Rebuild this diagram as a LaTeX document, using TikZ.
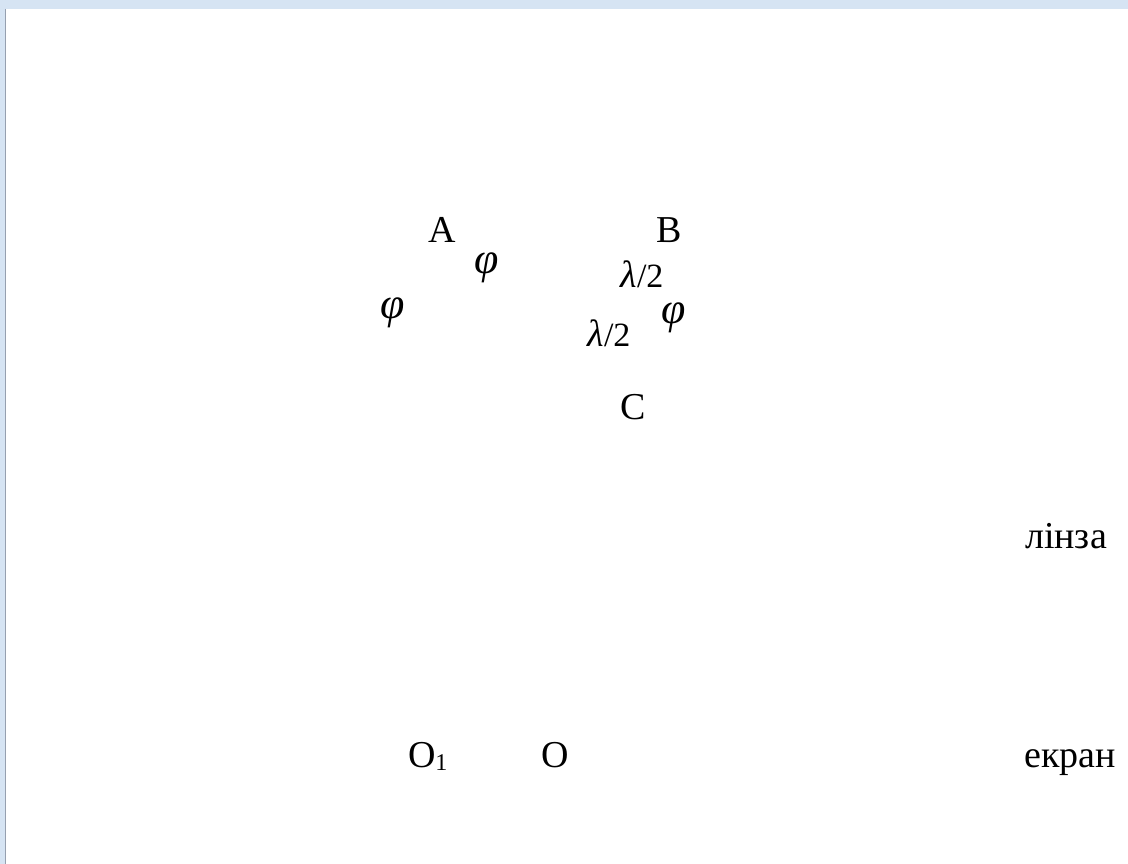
\documentclass[tikz,border=0pt]{standalone}
\usepackage{fontspec}
\setmainfont{Liberation Serif}
\definecolor{frameblue}{RGB}{214,228,243}
\definecolor{frameline}{RGB}{150,160,175}
\begin{document}
\begin{tikzpicture}[x=1pt,y=-1pt,
  lbl/.style={inner sep=0pt,outer sep=0pt,font=\fontsize{38}{40}\selectfont},
  gr/.style={lbl,font=\fontsize{44}{46}\selectfont\itshape},
  lam/.style={lbl,font=\fontsize{34}{36}\selectfont}]
\useasboundingbox (0,0) rectangle (1128,864);
\fill[white] (0,0) rectangle (1128,864);
% window frame
\fill[frameblue] (0,0) rectangle (1128,9);
\fill[frameblue] (0,0) rectangle (5,864);
\draw[frameline,line width=1pt] (5.5,9) -- (5.5,864);
% labels
\node[lbl,anchor=base] (A) at (442,242) {A};
\node[lbl,anchor=base] (B) at (669,242) {B};
\node[lbl,anchor=base] (C) at (633,419) {C};
\node[gr] (phi1) at (487,268) {φ};
\node[gr] (phi2) at (393,313) {φ};
\node[gr] (phi3) at (674,318) {φ};
\node[lam] (lam1) at (642,274) {{\fontsize{38}{40}\selectfont\itshape λ}/2};
\node[lam] (lam2) at (609,333) {{\fontsize{38}{40}\selectfont\itshape λ}/2};
\node[lbl,anchor=base west] (O1) at (408,767) {O\raisebox{-0.22ex}{\fontsize{24}{26}\selectfont 1}};
\node[lbl,anchor=base] (O) at (555,767) {O};
\node[lbl,anchor=base] (lens) at (1066,548) {лінза};
\node[lbl,anchor=base] (screen) at (1070,767) {екран};
\end{tikzpicture}
\end{document}
